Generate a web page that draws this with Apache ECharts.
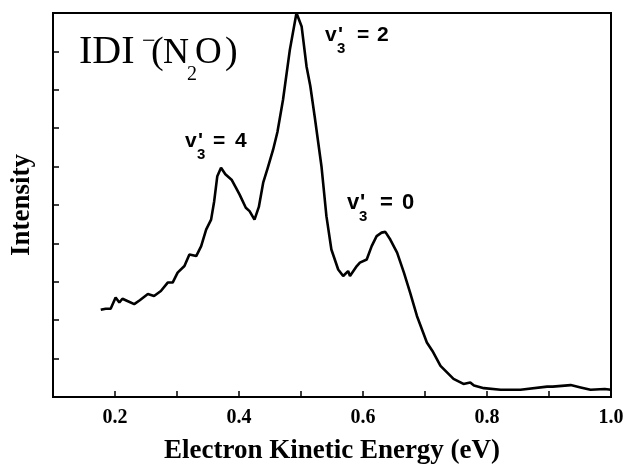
<!DOCTYPE html>
<html>
<head>
<meta charset="utf-8">
<script src="https://cdn.jsdelivr.net/npm/echarts@6/dist/echarts.min.js"></script>
<style>html,body{margin:0;padding:0;background:#fff}#c{width:624px;height:464px}</style>
</head>
<body>
<div id="c"></div>
<script>
// Electron kinetic energy (eV)
const energy = [0.177,0.185,0.193,0.201,0.207,0.212,0.220,0.231,0.240,0.253,0.263,0.274,0.285,0.293,0.301,0.312,0.320,0.331,0.339,0.347,0.355,0.360,0.365,0.371,0.378,0.388,0.395,0.401,0.411,0.417,0.425,0.432,0.439,0.446,0.455,0.462,0.471,0.482,0.4927,0.501,0.509,0.515,0.522,0.533,0.541,0.549,0.560,0.568,0.576,0.579,0.590,0.595,0.606,0.614,0.622,0.630,0.636,0.644,0.655,0.666,0.676,0.687,0.703,0.712,0.725,0.746,0.762,0.773,0.779,0.795,0.822,0.854,0.897,0.906,0.935,0.951,0.967,0.99,1.0];
// Intensity (arbitrary units)
const intensity = [2.27,2.30,2.30,2.59,2.46,2.56,2.50,2.42,2.52,2.68,2.63,2.76,2.98,2.98,3.24,3.41,3.71,3.67,3.93,4.36,4.62,5.10,5.75,5.97,5.80,5.66,5.45,5.27,4.93,4.84,4.62,4.95,5.58,5.95,6.44,6.90,7.74,9.04,10.0,9.65,8.60,8.10,7.31,6.01,4.71,3.84,3.32,3.15,3.28,3.15,3.41,3.50,3.58,3.93,4.19,4.28,4.30,4.10,3.76,3.24,2.72,2.11,1.42,1.20,0.81,0.47,0.34,0.38,0.30,0.23,0.19,0.19,0.27,0.27,0.31,0.25,0.19,0.21,0.19];
const xTicks = [0.2,0.4,0.6,0.8,1.0];
const xTitle = 'Electron Kinetic Energy (eV)';
const yTitle = 'Intensity';

const serif = '"Liberation Serif","DejaVu Serif",serif';
const narrow = '"Liberation Sans Narrow","Liberation Sans",sans-serif';

function txt(str, x, baseline, size, family, weight) {
  return { type: 'text', x: x, y: baseline - 0.305 * size, silent: true,
    style: { text: str, fontSize: size, fontFamily: family, fontWeight: weight || 'normal',
      fill: '#000', align: 'left', verticalAlign: 'middle' } };
}
function vLabel(vx, base, eqx, digx, digit, size) {
  return [
    txt('v', vx, base, size, narrow, 'bold'),
    txt("'", vx + 13, base, size, narrow, 'bold'),
    txt('3', vx + 12, base + 11, 15, narrow, 'bold'),
    txt('=', eqx, base, size, narrow, 'bold'),
    txt(digit, digx, base, size, narrow, 'bold')
  ];
}

const chart = echarts.init(document.getElementById('c'), null, { renderer: 'canvas' });
chart.setOption({
  animation: false,
  backgroundColor: '#fff',
  grid: { left: 53, right: 13, top: 13, bottom: 67, containLabel: false, outerBoundsMode: 'none',
    show: true, borderColor: '#000', borderWidth: 2, backgroundColor: 'transparent' },
  xAxis: {
    type: 'value', min: 0.1, max: 1.0, interval: 0.1,
    name: xTitle, nameLocation: 'middle', nameGap: 41,
    nameTextStyle: { fontFamily: serif, fontWeight: 'bold', fontSize: 27, color: '#000' },
    axisLine: { show: true, onZero: false, lineStyle: { color: '#000', width: 2 } },
    axisTick: { show: true, inside: true, length: 6, lineStyle: { color: '#000', width: 1.5 } },
    splitLine: { show: false },
    axisLabel: {
      margin: 11, fontFamily: serif, fontWeight: 'bold', fontSize: 20, color: '#000',
      formatter: function (v) {
        const hit = xTicks.find(t => Math.abs(t - v) < 1e-6);
        return hit !== undefined ? hit.toFixed(1) : '';
      }
    }
  },
  yAxis: {
    type: 'value', min: 0, max: 10, interval: 1,
    name: yTitle, nameLocation: 'middle', nameGap: 17, nameRotate: 90,
    nameTextStyle: { fontFamily: serif, fontWeight: 'bold', fontSize: 27, color: '#000' },
    axisLine: { show: true, lineStyle: { color: '#000', width: 2 } },
    axisTick: { show: true, inside: true, length: 6, lineStyle: { color: '#000', width: 1.5 } },
    axisLabel: { show: false },
    splitLine: { show: false }
  },
  series: [{
    type: 'line',
    data: energy.map((e, i) => [e, intensity[i]]),
    showSymbol: false, smooth: false,
    lineStyle: { color: '#000', width: 2.6 },
    clip: true
  }],
  graphic: [
    txt('IDI', 79, 65, 40, serif),
    txt('\u2212', 142, 49, 24, serif),
    txt('(', 151, 65, 38, serif),
    txt('N', 163, 65, 36, serif),
    txt('2', 187, 81, 20, serif),
    txt('O', 195, 65, 37, serif),
    txt(')', 225, 65, 38, serif)
  ].concat(
    vLabel(325, 42, 357, 377, '2', 21),
    vLabel(185, 148, 213, 235, '4', 21),
    vLabel(347, 210, 380, 402, '0', 22)
  )
});
</script>
</body>
</html>
